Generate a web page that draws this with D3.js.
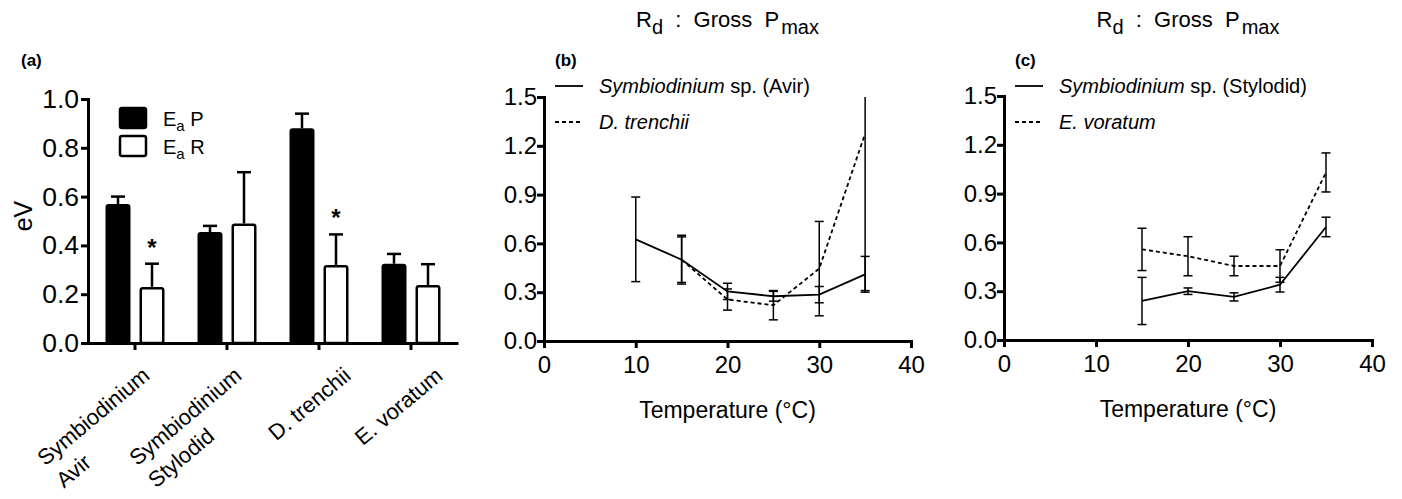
<!DOCTYPE html>
<html><head><meta charset="utf-8">
<script src="https://cdn.jsdelivr.net/npm/d3@7"></script>
<style>
body{margin:0;background:#fff;}
svg{display:block;font-family:"Liberation Sans",Arial,Helvetica,sans-serif;}
</style></head><body>
<svg id="chart" width="1402" height="499"></svg>
<script>
// ---------- Panel (a) data ----------
const categories = [["Symbiodinium","Avir"],["Symbiodinium","Stylodid"],["D. trenchii"],["E. voratum"]];
const eaP    = [0.57, 0.455, 0.88, 0.325];
const eaPErr = [0.03, 0.025, 0.06, 0.04];
const eaR    = [0.23, 0.49, 0.32, 0.238];
const eaRErr = [0.095, 0.21, 0.125, 0.085];
const signif = [true, false, true, false];
const yTicksA = [0, 0.2, 0.4, 0.6, 0.8, 1.0];

// ---------- Panel (b) data ----------
const tempsAvir = [10, 15, 20, 25, 30, 35];
const avir      = [0.625, 0.50, 0.305, 0.275, 0.285, 0.41];
const avirErr   = [0.26, 0.14, 0.05, 0.03, 0.05, 0.11];
const tempsTren = [15, 20, 25, 30, 35];
const trenchii  = [0.50, 0.255, 0.22, 0.445, 1.275];
const trenErr   = [0.15, 0.065, 0.09, 0.29, 0.965];

// ---------- Panel (c) data ----------
const tempsSty  = [15, 20, 25, 30, 35];
const stylodid  = [0.24, 0.30, 0.265, 0.34, 0.695];
const styErr    = [0.145, 0.02, 0.025, 0.045, 0.06];
const tempsVor  = [15, 20, 25, 30, 35];
const voratum   = [0.557, 0.515, 0.455, 0.455, 1.03];
const vorErr    = [0.13, 0.12, 0.06, 0.10, 0.12];

const yTicksBC = [0, 0.3, 0.6, 0.9, 1.2, 1.5];
const xTicksBC = [0, 10, 20, 30, 40];

const svg = d3.select("#chart");
const fmt1 = d3.format(".1f");

function styleAxis(g, fs) {
  g.select(".domain").attr("stroke", "#000").attr("stroke-width", 3).attr("stroke-linecap", "square");
  g.selectAll(".tick line").attr("stroke", "#000").attr("stroke-width", 3);
  g.selectAll(".tick text").attr("fill", "#000").attr("font-size", fs).attr("font-family", null);
  g.attr("font-family", null);
}

// ================= Panel (a) =================
{
  const y0 = 343, y1 = 99;
  const y = d3.scaleLinear().domain([0, 1]).range([y0, y1]);
  const x = d3.scaleBand().domain(d3.range(categories.length)).range([89, 457]);
  const sub = d3.scaleBand().domain(["P", "R"]).range([0, x.bandwidth()]).paddingInner(0.265).paddingOuter(0.485);
  const sw = 2.5;

  const bars = [];
  categories.forEach((c, i) => {
    bars.push({i, k: "P", v: eaP[i], e: eaPErr[i]});
    bars.push({i, k: "R", v: eaR[i], e: eaRErr[i]});
  });
  const g = svg.append("g");
  bars.forEach(b => {
    const cx = x(b.i) + sub(b.k) + sub.bandwidth() / 2;
    g.append("line").attr("x1", cx).attr("x2", cx).attr("y1", y(b.v)).attr("y2", y(b.v + b.e))
      .attr("stroke", "#000").attr("stroke-width", sw);
    g.append("line").attr("x1", cx - 7).attr("x2", cx + 7).attr("y1", y(b.v + b.e)).attr("y2", y(b.v + b.e))
      .attr("stroke", "#000").attr("stroke-width", sw);
  });
  g.selectAll("rect.bar").data(bars).join("rect").attr("class", "bar")
    .attr("x", d => x(d.i) + sub(d.k) + sw / 2)
    .attr("width", sub.bandwidth() - sw)
    .attr("y", d => y(d.v) + sw / 2)
    .attr("height", d => y0 - y(d.v) - sw / 2)
    .attr("rx", 2)
    .attr("fill", d => d.k === "P" ? "#000" : "#fff")
    .attr("stroke", "#000").attr("stroke-width", sw);

  categories.forEach((c, i) => {
    if (!signif[i]) return;
    const cx = x(i) + sub("R") + sub.bandwidth() / 2;
    g.append("text").attr("x", cx).attr("y", y(eaR[i] + eaRErr[i]) - 8)
      .attr("text-anchor", "middle").attr("font-size", 24).attr("font-weight", "bold").text("*");
  });

  const ya = svg.append("g").attr("transform", `translate(88,0)`)
    .call(d3.axisLeft(y).tickValues(yTicksA).tickFormat(fmt1).tickSize(7).tickPadding(2).tickSizeOuter(0));
  styleAxis(ya, 26.5);
  const xa = svg.append("g").attr("transform", `translate(0,${y0})`)
    .call(d3.axisBottom(x).tickSize(7).tickFormat("").tickSizeOuter(0));
  styleAxis(xa, 20);
  xa.select(".domain").attr("d", `M88,0.5H457`);

  // category labels, rotated; multi-line labels are left-aligned and stacked
  categories.forEach((lines, i) => {
    const lg = svg.append("g").attr("transform", `translate(${x(i) + x.bandwidth() / 2},${y0}) rotate(-40)`);
    const multi = lines.length > 1;
    const lh = 29;
    const base = multi ? 37 : 48;
    const uEnd = multi ? -10 : 3;
    const t1 = lg.append("text").attr("x", uEnd).attr("y", base).attr("text-anchor", "end")
      .attr("font-size", 22).text(lines[0]);
    const w1 = t1.node().getComputedTextLength();
    lines.slice(1).forEach((ln, j) => {
      lg.append("text").attr("x", uEnd - w1).attr("y", base + lh * (j + 1)).attr("text-anchor", "start")
        .attr("font-size", 22).text(ln);
    });
  });

  svg.append("text").attr("transform", "translate(32,216) rotate(-90)").attr("text-anchor", "middle")
    .attr("font-size", 25).text("eV");
  svg.append("text").attr("x", 21).attr("y", 66).attr("font-size", 17).attr("font-weight", "bold").text("(a)");

  const leg = [{k: "P", fill: "#000", y: 108}, {k: "R", fill: "#fff", y: 136}];
  leg.forEach(l => {
    svg.append("rect").attr("x", 120).attr("y", l.y).attr("width", 26).attr("height", 20).attr("rx", 2)
      .attr("fill", l.fill).attr("stroke", "#000").attr("stroke-width", sw);
    const t = svg.append("text").attr("x", 163).attr("y", l.y + 18).attr("font-size", 20);
    t.append("tspan").text("E");
    t.append("tspan").attr("font-size", 15).attr("dy", 5).text("a");
    t.append("tspan").attr("dy", -5).text(" " + l.k);
  });
}

// ================= Panels (b) and (c) =================
function linePanel(opt) {
  const y = d3.scaleLinear().domain([0, 1.5]).range([opt.y0, opt.y1]);
  const x = d3.scaleLinear().domain([0, 40]).range([opt.x0, opt.x1]);
  const g = svg.append("g");
  const line = d3.line().x(d => x(d[0])).y(d => y(d[1]));

  opt.series.forEach(s => {
    const pts = s.t.map((t, i) => [t, s.v[i], s.e[i]]);
    pts.forEach(p => {
      const top = Math.min(p[1] + p[2], 1.5), bot = p[1] - p[2];
      g.append("line").attr("x1", x(p[0])).attr("x2", x(p[0])).attr("y1", y(bot)).attr("y2", y(top))
        .attr("stroke", "#000").attr("stroke-width", 1.5);
      [bot, p[1] + p[2]].forEach(v => {
        if (v > 1.5) return;
        g.append("line").attr("x1", x(p[0]) - 4.5).attr("x2", x(p[0]) + 4.5).attr("y1", y(v)).attr("y2", y(v))
          .attr("stroke", "#000").attr("stroke-width", 1.5);
      });
    });
    g.append("path").attr("d", line(pts)).attr("fill", "none").attr("stroke", "#000")
      .attr("stroke-width", 1.8).attr("stroke-dasharray", s.dash ? "4,3" : null);
  });

  const ya = svg.append("g").attr("transform", `translate(${opt.x0},0)`)
    .call(d3.axisLeft(y).tickValues(yTicksBC).tickFormat(fmt1).tickSize(7).tickPadding(0).tickSizeOuter(0));
  styleAxis(ya, 24);
  const xa = svg.append("g").attr("transform", `translate(0,${opt.y0})`)
    .call(d3.axisBottom(x).tickValues(xTicksBC).tickFormat(d3.format("d")).tickSize(7).tickPadding(8).tickSizeOuter(0));
  styleAxis(xa, 24);

  const cx = (opt.x0 + opt.x1) / 2;
  svg.append("text").attr("x", cx).attr("y", opt.y0 + 77).attr("text-anchor", "middle").attr("font-size", 23)
    .text("Temperature (°C)");

  const tt = svg.append("text").attr("x", cx).attr("y", 27).attr("text-anchor", "middle").attr("font-size", 22)
    .style("white-space", "pre");
  tt.append("tspan").text("R");
  tt.append("tspan").attr("font-size", 20).attr("dy", 7).text("d");
  tt.append("tspan").attr("dy", -7).text("  :  Gross  P");
  tt.append("tspan").attr("font-size", 20).attr("dy", 7).attr("dx", 2).text("max");

  svg.append("text").attr("x", opt.x0 + 11).attr("y", 66).attr("font-size", 17).attr("font-weight", "bold").text(opt.label);

  opt.series.forEach((s, i) => {
    const ly = 86 + i * 36;
    svg.append("line").attr("x1", opt.x0 + 11).attr("x2", opt.x0 + 39).attr("y1", ly).attr("y2", ly)
      .attr("stroke", "#000").attr("stroke-width", 1.8).attr("stroke-dasharray", s.dash ? "4,3" : null);
    const t = svg.append("text").attr("x", opt.x0 + 55).attr("y", ly + 7).attr("font-size", 20);
    t.append("tspan").attr("font-style", "italic").text(s.name[0]);
    if (s.name[1]) t.append("tspan").text(s.name[1]);
  });
}

linePanel({x0: 544, x1: 911, y0: 341, y1: 97, label: "(b)", series: [
  {t: tempsAvir, v: avir, e: avirErr, dash: false, name: ["Symbiodinium", " sp. (Avir)"]},
  {t: tempsTren, v: trenchii, e: trenErr, dash: true, name: ["D. trenchii"]}
]});
linePanel({x0: 1004, x1: 1372, y0: 340, y1: 96, label: "(c)", series: [
  {t: tempsSty, v: stylodid, e: styErr, dash: false, name: ["Symbiodinium", " sp. (Stylodid)"]},
  {t: tempsVor, v: voratum, e: vorErr, dash: true, name: ["E. voratum"]}
]});
</script>
</body></html>
